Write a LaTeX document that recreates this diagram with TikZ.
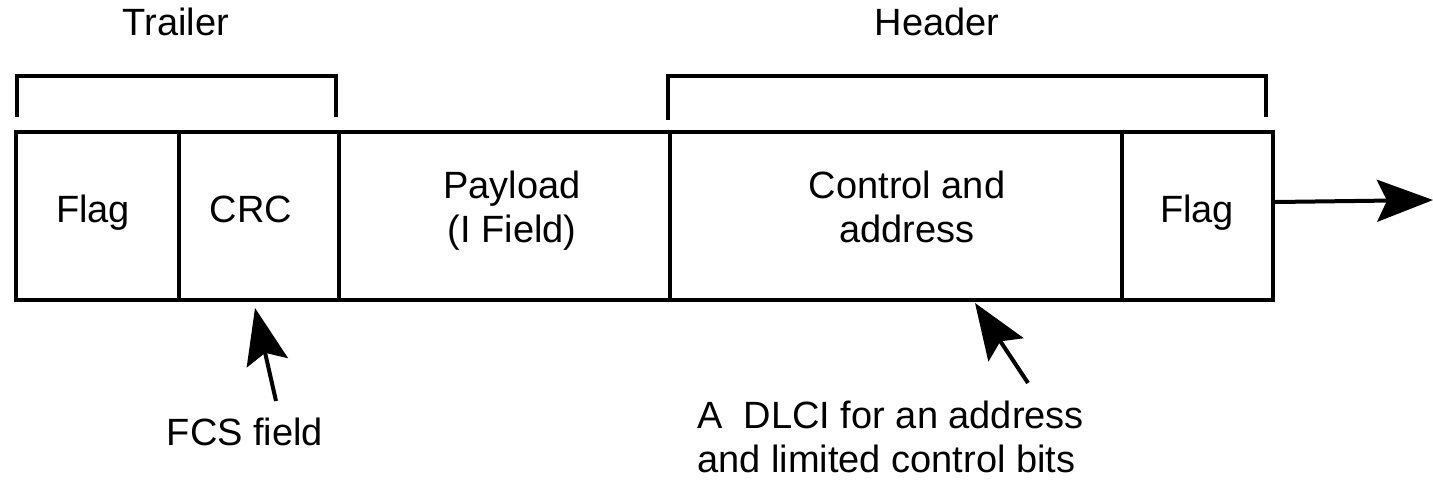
\documentclass[tikz,border=0pt]{standalone}
\usepackage{fontspec}
\setmainfont{Liberation Sans}
\usetikzlibrary{arrows.meta}
\begin{document}
\begin{tikzpicture}[x=0.5pt,y=-0.5pt,
  txt/.style={inner sep=0pt, font=\fontsize{19}{22}\selectfont},
  field/.style={draw, line width=2pt, inner sep=0pt, anchor=north west, minimum height=84pt},
  brk/.style={line width=2pt},
  arr/.style={line width=2pt, -{Stealth[length=28pt,width=21pt,inset=5pt]}}]
\fill[white] (0,0) rectangle (1433,483);
\useasboundingbox (0,0) rectangle (1433,483);
% fields
\node[field, minimum width=81.5pt] (flagA) at (14,130) {};
\node[field, minimum width=80pt] (crc) at (177,130) {};
\node[field, minimum width=165.5pt] (payload) at (337,130) {};
\node[field, minimum width=226pt] (ctrl) at (668,130) {};
\node[field, minimum width=75.5pt] (flagB) at (1120,130) {};
% field labels
\node[txt, anchor=base] (flagAtxt) at (93,222) {Flag};
\node[txt, anchor=base] (crctxt) at (251,222) {CRC};
\node[txt, anchor=base, align=center] (paytxt) at (512,242) {Payload\\(I Field)};
\node[txt, anchor=base, align=center] (ctrltxt) at (907,242) {Control and\\address};
\node[txt, anchor=base] (flagBtxt) at (1197,222) {Flag};
% brackets
\coordinate (tl) at (17,117);
\coordinate (tr) at (336,117);
\coordinate (hl) at (668,120);
\coordinate (hr) at (1266,117);
\draw[brk] (tl) -- ++(0,-41) -| (tr);
\draw[brk] (hl) -- ++(0,-44) -| (hr);
\node[txt, anchor=base] (trailer) at (176,35) {Trailer};
\node[txt, anchor=base] (header) at (937,35) {Header};
% output arrow
\coordinate (out) at (1433,200);
\draw[arr] ([yshift=7pt]flagB.east) -- (out);
% annotations
\node[txt, anchor=base] (fcs) at (245,445) {FCS field};
\node[txt, anchor=base west, align=left] (dlci) at (697,472) {A\ \ DLCI for an address\\and limited control bits};
\coordinate (fcstail) at (276,401);
\coordinate (fcstip) at (255,308);
\coordinate (dlcitail) at (1028,383);
\coordinate (dlcitip) at (975,303);
\draw[arr] (fcstail) -- (fcstip);
\draw[arr] (dlcitail) -- (dlcitip);
\end{tikzpicture}
\end{document}
